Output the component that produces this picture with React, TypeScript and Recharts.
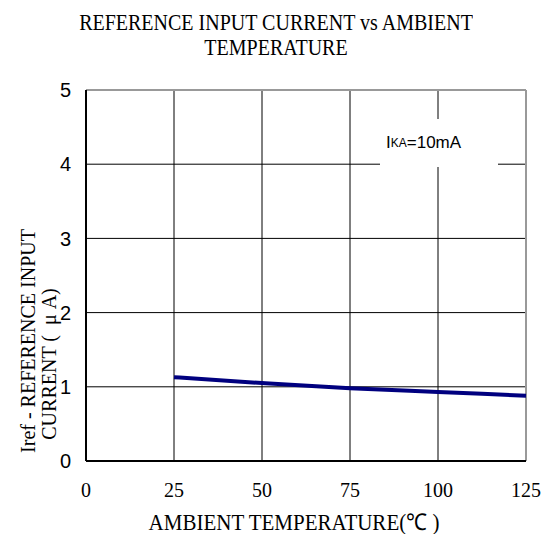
import React from 'react';
import { LineChart, Line, XAxis, YAxis, CartesianGrid, ReferenceLine } from 'recharts';

const temperatures = [25, 50, 75, 100, 125];
const irefValues = [1.13, 1.05, 0.98, 0.93, 0.88];
const xTicks = [0, 25, 50, 75, 100, 125];
const yTicks = [0, 1, 2, 3, 4, 5];

const data = temperatures.map((t, i) => ({ t, iref: irefValues[i] }));

const serif = '"Liberation Serif", "Times New Roman", serif';
const sans = '"Liberation Sans", Arial, sans-serif';

export default function App() {
  return (
    <div style={{ position: 'absolute', left: 0, top: 0, width: 542, height: 534, background: '#fff' }}>
      <div
        style={{
          position: 'absolute', left: 0, top: 10, width: 552, textAlign: 'center',
          fontFamily: serif, fontSize: 20, lineHeight: '22px', color: '#000',
          transform: 'scaleY(1.12)', transformOrigin: 'top',
        }}
      >
        REFERENCE INPUT CURRENT vs AMBIENT
        <br />
        TEMPERATURE
      </div>
      <LineChart
        width={542}
        height={534}
        data={data}
        margin={{ top: 90, right: 16, bottom: 43, left: 26 }}
      >
        <CartesianGrid stroke="#000" strokeWidth={1} />
        <XAxis
          dataKey="t"
          type="number"
          domain={[0, 125]}
          ticks={xTicks}
          height={30}
          axisLine={{ stroke: '#000', strokeWidth: 2 }}
          tickLine={false}
          tickSize={0}
          tickMargin={22}
          tick={{ fill: '#000', fontSize: 20, fontFamily: serif }}
        />
        <YAxis
          type="number"
          domain={[0, 5]}
          ticks={yTicks}
          width={60}
          axisLine={{ stroke: '#000', strokeWidth: 2 }}
          tickLine={false}
          tickSize={0}
          tickMargin={15}
          tick={{ fill: '#000', fontSize: 20, fontFamily: sans }}
        />
        <ReferenceLine y={5} stroke="#999" strokeWidth={2} />
        <ReferenceLine x={125} stroke="#999" strokeWidth={2} />
        <Line
          dataKey="iref"
          type="monotone"
          stroke="#00007f"
          strokeWidth={4}
          dot={false}
          isAnimationActive={false}
        />
      </LineChart>
      <div
        style={{
          position: 'absolute', left: 380, top: 123, width: 118, height: 48, background: '#fff',
          fontFamily: sans, fontSize: 17, color: '#000', display: 'flex', alignItems: 'center',
          paddingLeft: 6, boxSizing: 'border-box', marginTop: -4,
        }}
      >
        <span>I</span>
        <span style={{ fontSize: 12 }}>KA</span>
        <span>=10mA</span>
      </div>
      <div
        style={{
          position: 'absolute', left: 0, top: 509, width: 588, textAlign: 'center',
          fontFamily: serif, fontSize: 21, color: '#000', lineHeight: '25px',
          transform: 'scaleY(1.1)', transformOrigin: 'top',
        }}
      >
        AMBIENT TEMPERATURE(℃ )
      </div>
      <div
        style={{
          position: 'absolute', left: 27, top: 341, width: 0, height: 0,
        }}
      >
        <div
          style={{
            position: 'absolute', left: 0, top: 0, transform: 'translate(-50%, -50%) rotate(-90deg) scaleY(1.1)',
            whiteSpace: 'nowrap', fontFamily: serif, fontSize: 20, color: '#000', lineHeight: '22px',
          }}
        >
          Iref - REFERENCE INPUT
        </div>
      </div>
      <div
        style={{
          position: 'absolute', left: 48, top: 364, width: 0, height: 0,
        }}
      >
        <div
          style={{
            position: 'absolute', left: 0, top: 0, transform: 'translate(-50%, -50%) rotate(-90deg) scaleY(1.1)',
            whiteSpace: 'pre', fontFamily: serif, fontSize: 20, color: '#000', lineHeight: '22px',
          }}
        >
          {'CURRENT (  μ A)'}
        </div>
      </div>
    </div>
  );
}
